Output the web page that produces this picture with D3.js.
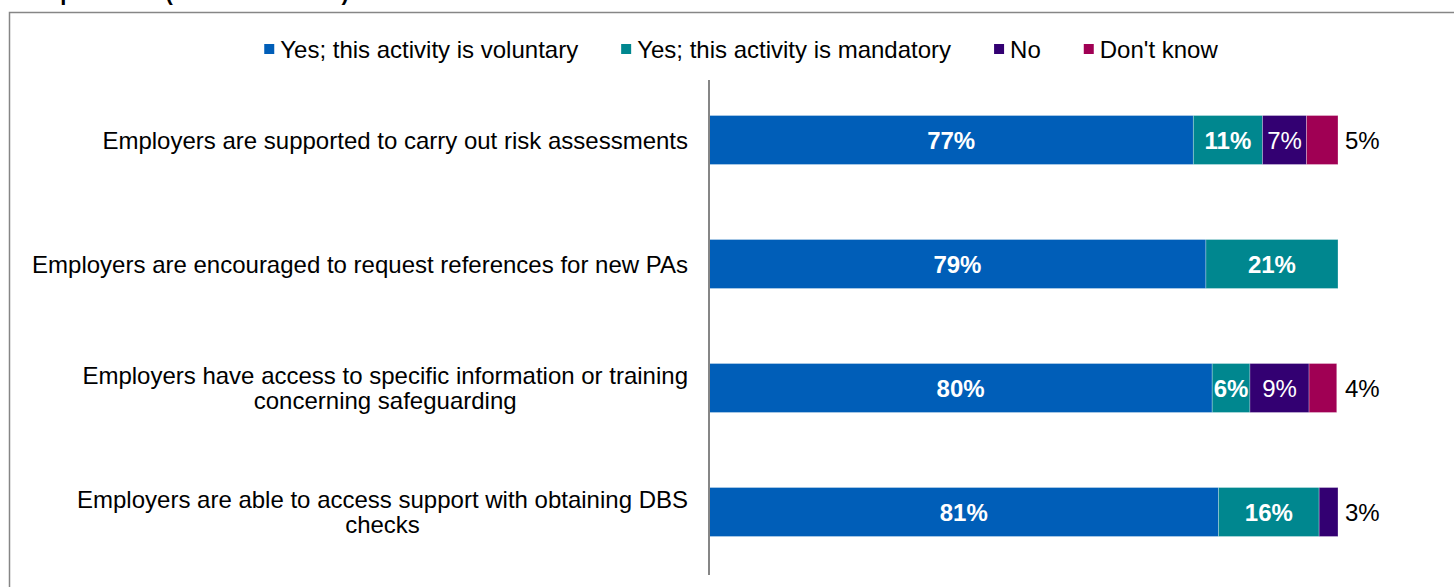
<!DOCTYPE html>
<html>
<head>
<meta charset="utf-8">
<script src="https://cdn.jsdelivr.net/npm/d3@7"></script>
<style>
  body { margin: 0; background: #fff; }
  svg { display: block; font-family: "Liberation Sans", Arial, sans-serif; }
</style>
</head>
<body>
<svg id="chart" width="1454" height="587"></svg>
<script>
// chart data
const categories = [
  "Employers are supported to carry out risk assessments",
  "Employers are encouraged to request references for new PAs",
  "Employers have access to specific information or training|concerning safeguarding",
  "Employers are able to access support with obtaining DBS|checks"
];
const seriesNames = ["Yes; this activity is voluntary", "Yes; this activity is mandatory", "No", "Don't know"];
const voluntary = [77, 79, 80, 81];
const mandatory = [11, 21, 6, 16];
const no = [7, 0, 9.4, 3];
const dontKnow = [5, 0, 4.4, 0];

const colors = ["#005EB8", "#00878F", "#330072", "#A00054"];
const labelWeight = ["bold", "bold", "normal", "normal"];

const svg = d3.select("#chart");
const left = 709, right = 1338;
const fs = 24;

// frame (runs off the right/bottom edge)
svg.append("rect")
  .attr("x", 9.5).attr("y", 12.5)
  .attr("width", 1460).attr("height", 600)
  .attr("fill", "none").attr("stroke", "#868686").attr("stroke-width", 1.5);

// title, mostly cut off by the top edge as in the source image
svg.append("text")
  .attr("x", 20).attr("y", 0)
  .attr("font-size", 22).attr("font-weight", "bold")
  .text("Respondents (local authorities)");

const x = d3.scaleLinear().domain([0, 100]).range([left, right]);
const y = d3.scaleBand().domain(d3.range(categories.length))
  .range([78, 574]).paddingInner(0.605).paddingOuter(0.3025);

const seriesData = [voluntary, mandatory, no, dontKnow];
const rows = categories.map((c, i) => {
  const r = { i };
  seriesNames.forEach((s, k) => r[k] = seriesData[k][i]);
  return r;
});
const stack = d3.stack().keys([0, 1, 2, 3])(rows);

// bars
const layer = svg.append("g").selectAll("g")
  .data(stack)
  .join("g")
  .attr("fill", (d, k) => colors[k]);

layer.selectAll("rect")
  .data(d => d.filter(p => p[1] - p[0] > 0))
  .join("rect")
  .attr("x", p => x(p[0]))
  .attr("y", p => y(p.data.i))
  .attr("width", p => x(p[1]) - x(p[0]))
  .attr("height", y.bandwidth())
  .attr("stroke", "#fff").attr("stroke-opacity", 0.35).attr("stroke-width", 0.8);

// value labels
stack.forEach((s, k) => {
  s.forEach(p => {
    const v = p[1] - p[0];
    if (v <= 0) return;
    const outside = (k === 3) || (v < 5 && p[1] >= 99);
    const cy = y(p.data.i) + y.bandwidth() / 2;
    svg.append("text")
      .attr("x", outside ? right + 7 : x((p[0] + p[1]) / 2))
      .attr("y", cy)
      .attr("dy", "0.36em")
      .attr("text-anchor", outside ? "start" : "middle")
      .attr("font-size", fs)
      .attr("font-weight", outside ? "normal" : labelWeight[k])
      .attr("fill", outside ? "#000" : "#fff")
      .text(Math.round(v) + "%");
  });
});

// vertical axis line
svg.append("line")
  .attr("x1", left).attr("x2", left)
  .attr("y1", 80).attr("y2", 575)
  .attr("stroke", "#868686").attr("stroke-width", 2);

// category labels (multi-line centred, block right-aligned)
categories.forEach((c, i) => {
  const lines = c.split("|");
  const g = svg.append("g");
  const texts = lines.map(l => g.append("text")
    .attr("font-size", fs).attr("fill", "#000").text(l));
  const maxW = d3.max(texts, t => t.node().getComputedTextLength());
  const cx = 688 - maxW / 2;
  const lh = 25;
  const cy = y(i) + y.bandwidth() / 2;
  texts.forEach((t, j) => {
    t.attr("x", cx).attr("text-anchor", "middle")
      .attr("y", cy + (j - (lines.length - 1) / 2) * lh)
      .attr("dy", "0.36em");
  });
});

// legend
const leg = svg.append("g");
const items = seriesNames.map((s, k) => {
  const g = leg.append("g");
  g.append("rect").attr("width", 10).attr("height", 10).attr("y", -5).attr("fill", colors[k]);
  const t = g.append("text").attr("x", 16).attr("dy", "0.36em")
    .attr("font-size", fs).text(s);
  return { g, w: 16 + t.node().getComputedTextLength() };
});
const gap = 43;
const total = d3.sum(items, d => d.w) + gap * (items.length - 1);
let lx = 741 - total / 2;
items.forEach(d => {
  d.g.attr("transform", `translate(${lx},49)`);
  lx += d.w + gap;
});
</script>
</body>
</html>
